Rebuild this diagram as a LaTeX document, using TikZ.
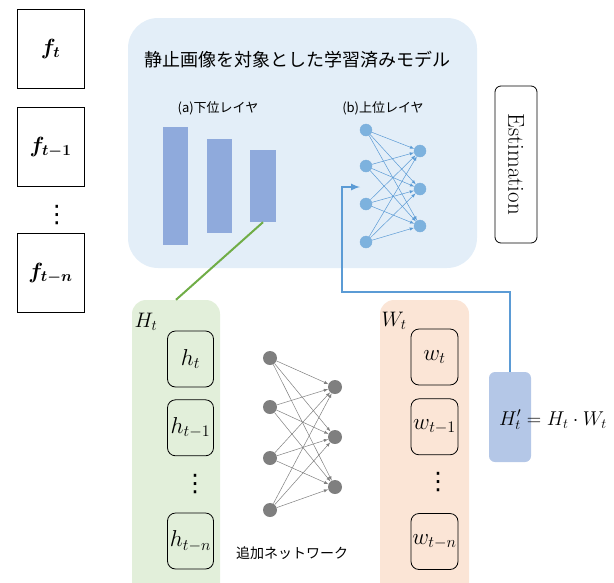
\RequirePackage{fix-cm}
\documentclass[tikz,border=0pt]{standalone}
\usepackage{amsmath,bm}
\usepackage{fontspec}
\newfontfamily\jpfont{Noto Sans CJK JP}
\newfontfamily\dotfont{DejaVu Sans}
\usetikzlibrary{arrows,positioning,calc}
\definecolor{panelblue}{RGB}{227,238,248}
\definecolor{barblue}{RGB}{143,170,220}
\definecolor{nodeblue}{RGB}{125,178,222}
\definecolor{lineblue}{RGB}{91,155,213}
\definecolor{panelgreen}{RGB}{226,239,218}
\definecolor{linegreen}{RGB}{112,173,71}
\definecolor{panelorange}{RGB}{251,229,214}
\definecolor{prodblue}{RGB}{180,199,231}
\definecolor{netgray}{RGB}{127,127,127}

\begin{document}
\begin{tikzpicture}[x=1pt, y=-1pt, >=latex]
    \tikzstyle{frame} = [draw, thick, minimum width=67pt, minimum height=79pt, inner sep=0pt, font=\fontsize{22}{25}\selectfont]
    \tikzstyle{cell} = [draw, thick, rounded corners=8pt, minimum width=46pt, minimum height=56pt, inner sep=0pt, font=\fontsize{23}{26}\selectfont]
    \tikzstyle{bar} = [fill=barblue, minimum width=25pt, inner sep=0pt]
    \tikzstyle{unit} = [circle, minimum size=12pt, inner sep=0pt]
    \tikzstyle{panel} = [rounded corners=14pt, minimum width=88pt, minimum height=300pt, inner sep=0pt]
    \tikzstyle{jptext} = [font=\jpfont\fontsize{13}{16}\selectfont]
    \tikzstyle{dotsym} = [inner sep=0pt, font=\dotfont\fontsize{24}{26}\selectfont]

    \clip (0,0) rectangle (614,582);

    % input frames
    \node [frame] (ft) at (50.5,48.5) {$\bm{f_t}$};
    \node [frame, below=19pt of ft] (ft1) {$\bm{f_{t-1}}$};
    \node [frame, below=46pt of ft1] (ftn) {$\bm{f_{t-n}}$};
    \node [dotsym] (fdots) at (57,215) {⋮};

    % pretrained model
    \node [fill=panelblue, rounded corners=30pt, minimum width=349pt, minimum height=250pt] (model) at (302.5,143) {};
    \node [font=\jpfont\fontsize{18}{22}\selectfont] (title) at (297,60) {静止画像を対象とした学習済みモデル};
    \node [jptext] (lower) at (218,108) {(a)下位レイヤ};
    \node [jptext] (upper) at (383,108) {(b)上位レイヤ};

    \node [bar, minimum height=118pt] (bar1) at (175.5,186) {};
    \node [bar, minimum height=94pt] (bar2) at (219.5,186) {};
    \node [bar, minimum width=26pt, minimum height=72pt] (bar3) at (263,186) {};

    \foreach \y [count=\i] in {130,166,204,242}
        \node [unit, fill=nodeblue, draw=lineblue!80] (bin\i) at (366,\y) {};
    \foreach \y [count=\j] in {151,189,226}
        \node [unit, fill=nodeblue, draw=lineblue!80] (bout\j) at (420,\y) {};
    \foreach \i in {1,...,4}
        \foreach \j in {1,...,3}
            \draw [->, lineblue, line width=0.5pt] (bin\i) -- (bout\j);

    \node [draw, thick, rounded corners=6pt, rotate=-90, minimum width=157pt, minimum height=42pt, font=\fontsize{23}{26}\selectfont] (est) at (516,164.5) {Estimation};

    % H_t
    \node [panel, fill=panelgreen] (hpanel) at (176,450) {};
    \node [anchor=west, font=\fontsize{21}{24}\selectfont] (hlabel) at (131,322) {$H_t$};
    \node [cell] (ht) at (190.5,359) {$h_t$};
    \node [cell, below=12pt of ht] (ht1) {$h_{t-1}$};
    \node [cell] (htn) at (190.5,541) {$h_{t-n}$};
    \node [dotsym] (hdots) at (195,484) {⋮};

    % additional network
    \foreach \y [count=\i] in {358,407,458,510}
        \node [unit, minimum size=14pt, fill=netgray] (gin\i) at (270,\y) {};
    \foreach \y [count=\j] in {387,437,487}
        \node [unit, minimum size=14pt, fill=netgray] (gout\j) at (335,\y) {};
    \foreach \i in {1,...,4}
        \foreach \j in {1,...,3}
            \draw [->, netgray, line width=0.5pt] (gin\i) -- (gout\j);
    \node [font=\jpfont\fontsize{14}{17}\selectfont] (addnet) at (292,553) {追加ネットワーク};

    % W_t
    \node [panel, fill=panelorange, minimum width=89pt] (wpanel) at (424.5,450) {};
    \node [anchor=west, font=\fontsize{21}{24}\selectfont] (wlabel) at (378,321) {$W_t$};
    \node [cell, minimum width=47pt] (wt) at (434.5,357) {$w_t$};
    \node [cell, minimum width=47pt, below=13pt of wt] (wt1) {$w_{t-1}$};
    \node [cell, minimum width=47pt] (wtn) at (434.5,541.5) {$w_{t-n}$};
    \node [dotsym] (wdots) at (438,482) {⋮};

    % product
    \node [fill=prodblue, rounded corners=6pt, minimum width=42pt, minimum height=90pt] (prod) at (510,417) {};
    \node [font=\fontsize{20}{23}\selectfont] (formula) at (553,420) {$H'_t = H_t \cdot W_t$};

    \coordinate (bend) at (342,292);
    \coordinate (entry) at (360,187);
    \draw [linegreen, line width=2pt] (bar3.south) -- (hpanel.north);
    \draw [->, lineblue, line width=2pt] (prod.north) |- (bend) |- (entry);
\end{tikzpicture}
\end{document}
